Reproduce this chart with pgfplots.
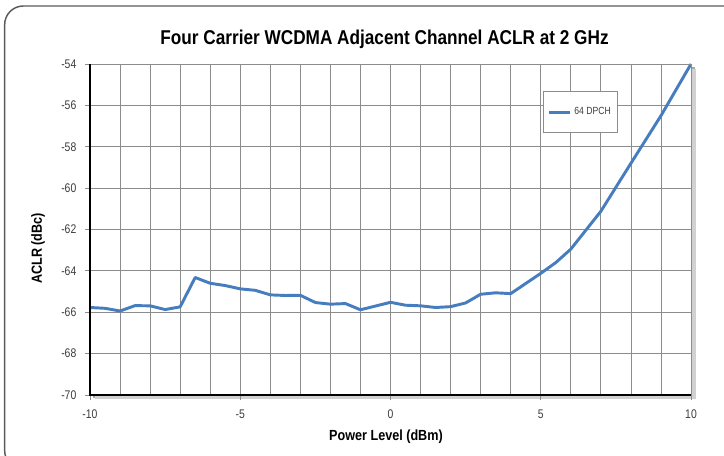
\documentclass[border=0pt]{standalone}
\usepackage{fontspec}
\setmainfont{Liberation Sans}
\newfontfamily\condfont[FakeStretch=0.86]{Liberation Sans}
\newfontfamily\tickfont[FakeStretch=0.83]{Liberation Sans}
\usepackage{pgfplots}
\pgfplotsset{compat=1.18}

\definecolor{seriesblue}{RGB}{70,125,190}
\definecolor{gridgray}{RGB}{140,140,140}
\definecolor{framegray}{RGB}{90,90,90}
\definecolor{ticktext}{RGB}{60,60,60}

\begin{document}
\begin{tikzpicture}
% page is 724x456 px at 0.75pt per px
\useasboundingbox (0,0) rectangle (543pt,342pt);
\clip (0,0) rectangle (543pt,342pt);

% rounded outer frame, cut at right and bottom
\draw[framegray, line width=1.1pt, rounded corners=14pt] (3.5pt,-10pt) rectangle (560pt,337.5pt);

% drop shadow behind the plot area
\fill[black!35] (70pt,43.5pt) rectangle (521pt,291.5pt);
\fill[black!18] (71pt,42.5pt) rectangle (522pt,290.5pt);

\begin{axis}[
  at={(67.5pt,45.75pt)}, anchor=south west,
  width=450.75pt, height=248.25pt, scale only axis,
  xmin=-10, xmax=10, ymin=-70, ymax=-54,
  xtick={-10,-5,...,10},
  minor xtick={-9,-8,...,9},
  ytick={-70,-68,...,-54},
  xmajorgrids, xminorgrids, ymajorgrids,
  grid style={gridgray, line width=0.6pt},
  minor grid style={gridgray, line width=0.6pt},
  axis background/.style={fill=white},
  axis line style={draw=none},
  tick align=outside,
  tick pos=left,
  major tick length=3.75pt,
  minor tick length=0pt,
  tick style={gridgray, line width=0.6pt},
  ticklabel style={font=\tickfont\fontsize{9.4}{10}\selectfont, text=ticktext},
  /pgf/number format/assume math mode=true,
  xticklabel style={yshift=-4pt},
  yticklabel style={xshift=-3pt},
  xlabel={\condfont\bfseries Power Level (dBm)},
  ylabel={\condfont\bfseries ACLR (dBc)},
  label style={font=\fontsize{11}{13}\selectfont},
  xlabel style={at={(axis description cs:0.4925,-0.125)}, anchor=center},
  ylabel style={at={(axis description cs:-0.0865,0.443)}, anchor=center},
  legend style={at={(0.754,0.918)}, anchor=north west, draw=gridgray,
    fill=white, inner xsep=3pt, inner ysep=10pt,
    font=\tickfont\fontsize{7.8}{8}\selectfont, text=ticktext},
  legend image code/.code={\draw[#1, line width=2.2pt] (0pt,0pt) -- (16pt,0pt);},
  legend cell align={left},
  clip=false,
]
\addplot[seriesblue, line width=2.2pt, line join=round] coordinates {
(-10,-65.77) (-9.5,-65.81) (-9,-65.94) (-8.5,-65.68) (-8,-65.69)
(-7.5,-65.87) (-7,-65.74) (-6.5,-64.32) (-6,-64.60) (-5.5,-64.71)
(-5,-64.87) (-4.5,-64.94) (-4,-65.16) (-3.5,-65.19) (-3,-65.18)
(-2.5,-65.53) (-2,-65.61) (-1.5,-65.58) (-1,-65.88) (-0.5,-65.70)
(0,-65.52) (0.5,-65.66) (1,-65.69) (1.5,-65.77) (2,-65.73)
(2.5,-65.55) (3,-65.13) (3.5,-65.06) (4,-65.10) (4.5,-64.61)
(5,-64.12) (5.5,-63.60) (6,-62.95) (7,-61.12) (8,-58.80)
(9,-56.50) (10,-54.00)
};
\addlegendentry{64 DPCH}
% plot frame: black left and bottom, grey top and right
\draw[gridgray, line width=0.6pt] (rel axis cs:0,1) -- (rel axis cs:1,1) -- (rel axis cs:1,0);
\draw[black, line width=1.3pt] (rel axis cs:0,1) -- (rel axis cs:0,0) -- (rel axis cs:1,0);
\end{axis}

\node[font=\condfont\bfseries\fontsize{15}{17}\selectfont] at (288.4pt,312.5pt)
  {Four Carrier WCDMA Adjacent Channel ACLR at 2 GHz};
\end{tikzpicture}
\end{document}
